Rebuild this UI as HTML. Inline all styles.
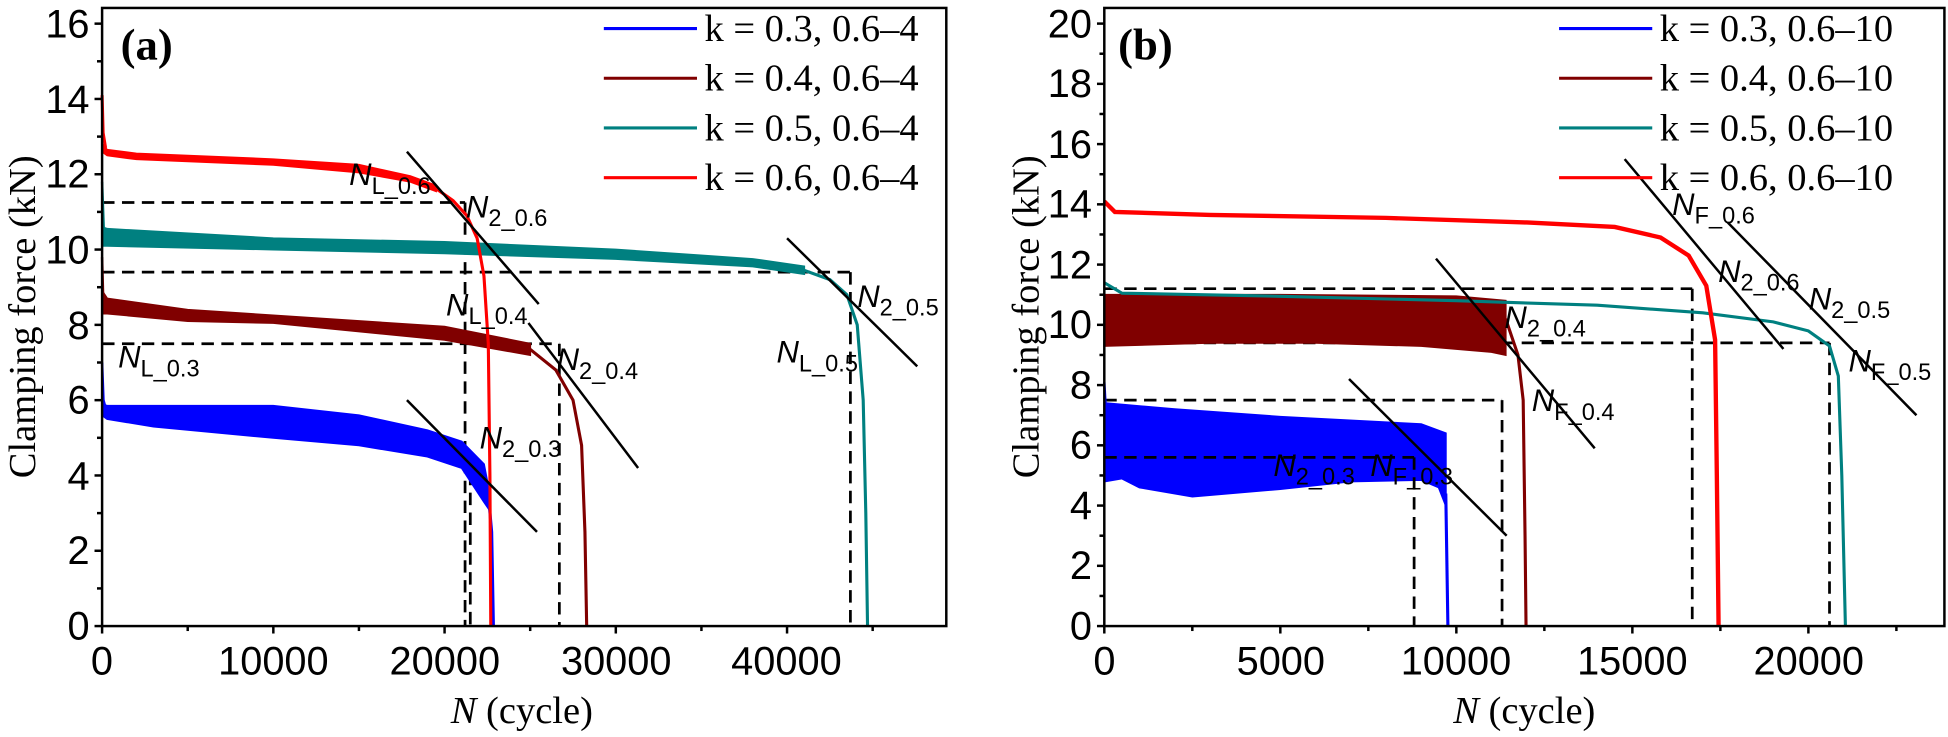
<!DOCTYPE html>
<html><head><meta charset="utf-8"><style>
html,body{margin:0;padding:0;background:#fff;}
svg{display:block;}
.tk{font-family:"Liberation Sans",sans-serif;font-size:32px;}
.lg{font-family:"Liberation Serif",serif;font-size:31px;}
.an{font-family:"Liberation Sans",sans-serif;font-size:25px;}
.an tspan.s{font-size:19px;}
</style></head><body>
<svg id="s" width="1948" height="737" viewBox="0 0 1568 593.3" xmlns="http://www.w3.org/2000/svg">
<g id="data"></g>
<rect x="82.1" y="6.4" width="679.6" height="497.6" fill="none" stroke="#000" stroke-width="2"/>
<rect x="888.9" y="6.4" width="676.3" height="497.6" fill="none" stroke="#000" stroke-width="2"/>
<g id="ticks" stroke="#000" stroke-width="2"></g>
<g class="tk" text-anchor="end">
<text x="72" y="515">0</text><text x="72" y="454">2</text><text x="72" y="394">4</text><text x="72" y="333">6</text><text x="72" y="273">8</text><text x="72" y="212">10</text><text x="72" y="151">12</text><text x="72" y="091">14</text><text x="72" y="30">16</text>
<text x="879" y="515">0</text><text x="879" y="466">2</text><text x="879" y="418">4</text><text x="879" y="369">6</text><text x="879" y="321">8</text><text x="879" y="272">10</text><text x="879" y="224">12</text><text x="879" y="175">14</text><text x="879" y="127">16</text><text x="879" y="78">18</text><text x="879" y="30">20</text>
</g>
<g class="tk" text-anchor="middle">
<text x="82" y="543">0</text><text x="220" y="543">10000</text><text x="358" y="543">20000</text><text x="496" y="543">30000</text><text x="633" y="543">40000</text>
<text x="889" y="543">0</text><text x="1031" y="543">5000</text><text x="1172" y="543">10000</text><text x="1314" y="543">15000</text><text x="1456" y="543">20000</text>
</g>
<g font-family="Liberation Serif,serif" font-size="31" text-anchor="middle">
<text x="420" y="582"><tspan font-style="italic">N</tspan> (cycle)</text>
<text x="1227" y="582"><tspan font-style="italic">N</tspan> (cycle)</text>
<text transform="translate(28,255) rotate(-90)">Clamping force (kN)</text>
<text transform="translate(836,255) rotate(-90)">Clamping force (kN)</text>
</g>
<g font-family="Liberation Serif,serif" font-size="36" font-weight="bold">
<text x="97" y="48">(a)</text><text x="900" y="48">(b)</text>
</g>
<g class="lg">
<line x1="486" y1="23" x2="561" y2="23" stroke="#0000ff" stroke-width="2.5"/><text x="567" y="33">k = 0.3, 0.6–4</text>
<line x1="486" y1="63" x2="561" y2="63" stroke="#800000" stroke-width="2.5"/><text x="567" y="73">k = 0.4, 0.6–4</text>
<line x1="486" y1="103" x2="561" y2="103" stroke="#008080" stroke-width="2.5"/><text x="567" y="113">k = 0.5, 0.6–4</text>
<line x1="486" y1="143" x2="561" y2="143" stroke="#ff0000" stroke-width="2.5"/><text x="567" y="153">k = 0.6, 0.6–4</text>
<line x1="1255" y1="23" x2="1330" y2="23" stroke="#0000ff" stroke-width="2.5"/><text x="1336" y="33">k = 0.3, 0.6–10</text>
<line x1="1255" y1="63" x2="1330" y2="63" stroke="#800000" stroke-width="2.5"/><text x="1336" y="73">k = 0.4, 0.6–10</text>
<line x1="1255" y1="103" x2="1330" y2="103" stroke="#008080" stroke-width="2.5"/><text x="1336" y="113">k = 0.5, 0.6–10</text>
<line x1="1255" y1="143" x2="1330" y2="143" stroke="#ff0000" stroke-width="2.5"/><text x="1336" y="153">k = 0.6, 0.6–10</text>
</g>
<g class="an">
<text x="281" y="149"><tspan font-style="italic">N</tspan><tspan class="s" dy="7">L_0.6</tspan></text>
<text x="375" y="175"><tspan font-style="italic">N</tspan><tspan class="s" dy="7">2_0.6</tspan></text>
<text x="359" y="254"><tspan font-style="italic">N</tspan><tspan class="s" dy="7">L_0.4</tspan></text>
<text x="448" y="298"><tspan font-style="italic">N</tspan><tspan class="s" dy="7">2_0.4</tspan></text>
<text x="625" y="292"><tspan font-style="italic">N</tspan><tspan class="s" dy="7">L_0.5</tspan></text>
<text x="690" y="247"><tspan font-style="italic">N</tspan><tspan class="s" dy="7">2_0.5</tspan></text>
<text x="95" y="296"><tspan font-style="italic">N</tspan><tspan class="s" dy="7">L_0.3</tspan></text>
<text x="386" y="361"><tspan font-style="italic">N</tspan><tspan class="s" dy="7">2_0.3</tspan></text>
<text x="1346" y="173"><tspan font-style="italic">N</tspan><tspan class="s" dy="7">F_0.6</tspan></text>
<text x="1383" y="227"><tspan font-style="italic">N</tspan><tspan class="s" dy="7">2_0.6</tspan></text>
<text x="1456" y="249"><tspan font-style="italic">N</tspan><tspan class="s" dy="7">2_0.5</tspan></text>
<text x="1488" y="299"><tspan font-style="italic">N</tspan><tspan class="s" dy="7">F_0.5</tspan></text>
<text x="1211" y="264"><tspan font-style="italic">N</tspan><tspan class="s" dy="7">2_0.4</tspan></text>
<text x="1233" y="331"><tspan font-style="italic">N</tspan><tspan class="s" dy="7">F_0.4</tspan></text>
<text x="1025" y="383"><tspan font-style="italic">N</tspan><tspan class="s" dy="7">2_0.3</tspan></text>
<text x="1103" y="383"><tspan font-style="italic">N</tspan><tspan class="s" dy="7">F_0.3</tspan></text>
</g>
</svg>
<script>
var NS="http://www.w3.org/2000/svg";
var A={x0:82.1,sx:0.013785,y0:504,sy:30.31},B={x0:888.9,sx:0.02834,sy:24.25,y0:504};
function X(P,n){return P.x0+P.sx*n}function Y(P,v){return P.y0-P.sy*v}
var g=document.getElementById('data'),tk=document.getElementById('ticks');
function el(t,a,p){var e=document.createElementNS(NS,t);for(var k in a)e.setAttribute(k,a[k]);(p||g).appendChild(e);return e}
function pts(P,arr){return arr.map(function(q){return X(P,q[0]).toFixed(1)+","+Y(P,q[1]).toFixed(1)})}
function line(P,arr,c,w,d){var a={d:"M"+pts(P,arr).join("L"),fill:"none",stroke:c,"stroke-width":w||2};if(d)a["stroke-dasharray"]=d;el("path",a)}
function band(P,up,lo,c){var p=pts(P,up).concat(pts(P,lo.slice().reverse()));el("path",{d:"M"+p.join("L")+"Z",fill:c,stroke:c,"stroke-width":1.5})}
function T(x1,y1,x2,y2){el("line",{x1:x1,y1:y1,x2:x2,y2:y2},tk)}
for(var v=0;v<=16;v++){var y=Y(A,v);T(82.1,y,v%2?78:76,y)}
for(var n=0;n<=45000;n+=5000){var x=X(A,n);T(x,504,x,n%10000?508:510)}
for(var v=0;v<=20;v++){var y=Y(B,v);T(888.9,y,v%2?885:883,y)}
for(var n=0;n<=22500;n+=2500){var x=X(B,n);T(x,504,x,n%5000?508:510)}
var D="10,6",W=2.2;
line(A,[[0,11.25],[21200,11.25]],"#000",W,D);line(A,[[21200,11.25],[21200,0]],"#000",W,D);
line(A,[[21500,4.6],[21500,0]],"#000",W,D);
line(A,[[0,9.4],[43700,9.4]],"#000",W,D);line(A,[[43700,9.4],[43700,0]],"#000",W,D);
line(A,[[0,7.5],[26700,7.5]],"#000",W,D);line(A,[[26700,7.5],[26700,0]],"#000",W,D);
line(A,[[0,5.6],[1500,5.6]],"#000",W,D);
band(A,[[0,5.9],[300,5.85],[5000,5.85],[10000,5.85],[15000,5.6],[19000,5.2],[21000,4.9],[22300,4.3],[22600,3.6]],
 [[0,5.6],[300,5.5],[3000,5.3],[10000,5.0],[15000,4.8],[19000,4.5],[21000,4.2],[22300,3.3],[22600,3.1]],"#0000ff");
line(A,[[0,7],[80,6],[200,5.8]],"#0000ff",2);
line(A,[[22550,3.5],[22750,2.5],[22850,0]],"#0000ff",2.5);
band(A,[[0,8.9],[300,8.7],[5000,8.4],[10000,8.25],[20000,7.95],[25000,7.5]],[[0,8.3],[300,8.3],[5000,8.1],[10000,8.05],[20000,7.6],[25000,7.2]],"#800000");
line(A,[[0,9.8],[60,8.8]],"#800000",2);
line(A,[[25000,7.35],[26500,6.8],[27500,6.0],[28000,4.8],[28200,2.5],[28300,0]],"#800000",2.5);
band(A,[[0,10.6],[300,10.55],[10000,10.3],[20000,10.2],[30000,10.0],[38000,9.75],[41000,9.55]],[[0,10.1],[300,10.1],[10000,10.0],[20000,9.9],[30000,9.75],[38000,9.55],[41000,9.35]],"#008080");
line(A,[[0,11.8],[100,10.5]],"#008080",2);
line(A,[[41000,9.45],[42500,9.2],[43500,8.8],[44100,8.0],[44450,6.0],[44600,3],[44700,0]],"#008080",2.5);
band(A,[[0,12.8],[300,12.65],[2000,12.55],[10000,12.4],[15000,12.25],[18000,11.95],[19500,11.7]],[[0,12.6],[300,12.5],[2000,12.4],[10000,12.25],[15000,12.05],[18000,11.8],[19500,11.55]],"#ff0000");
line(A,[[0,14.1],[60,13.1],[200,12.7]],"#ff0000",2.5);
line(A,[[19500,11.62],[20500,11.3],[21300,10.9],[21900,10.3],[22300,9.3],[22550,7.5],[22650,4],[22700,0]],"#ff0000",2.5);
line(A,[[17800,12.6],[25500,8.55]],"#000",2);line(A,[[40000,10.3],[47600,6.9]],"#000",2);
line(A,[[24900,8.05],[31300,4.2]],"#000",2);line(A,[[17800,6.0],[25400,2.5]],"#000",2);
line(B,[[0,11.2],[16700,11.2]],"#000",W,D);line(B,[[16700,11.2],[16700,0]],"#000",W,D);
line(B,[[0,9.4],[20600,9.4]],"#000",W,D);line(B,[[20600,9.4],[20600,0]],"#000",W,D);
line(B,[[0,7.5],[11300,7.5]],"#000",W,D);line(B,[[11300,7.5],[11300,0]],"#000",W,D);
band(B,[[0,7.4],[2000,7.2],[5000,6.95],[9000,6.7],[9700,6.4]],[[0,4.8],[500,4.9],[1000,4.6],[2500,4.3],[5000,4.55],[7000,4.8],[9000,4.85],[9500,4.6],[9700,4.0]],"#0000ff");
line(B,[[0,8.1],[30,7.4]],"#0000ff",2);
line(B,[[9700,4.4],[9760,0]],"#0000ff",2.5);
band(B,[[0,11.0],[5000,11.0],[10000,10.95],[11400,10.8]],[[0,9.3],[3000,9.4],[6000,9.4],[9000,9.3],[11000,9.1],[11400,9.0]],"#800000");
line(B,[[11400,10.2],[11750,9],[11900,7.5],[11950,3],[11980,0]],"#800000",2.5);
line(B,[[0,11.4],[500,11.05],[5000,10.95],[10000,10.8],[14000,10.65],[17000,10.4],[19000,10.1],[20000,9.8],[20600,9.3],[20850,8.3],[20950,5],[21050,0]],"#008080",2.5);
line(B,[[0,14.1],[300,13.75],[3000,13.65],[8000,13.55],[12000,13.4],[14500,13.25],[15800,12.9],[16600,12.3],[17100,11.3],[17350,9.5],[17400,5],[17450,0]],"#ff0000",3.5);
line(B,[[14780,15.5],[19290,9.2]],"#000",2);line(B,[[17710,13.4],[23070,7.0]],"#000",2);
line(B,[[9420,12.2],[13930,5.9]],"#000",2);line(B,[[6950,8.2],[11430,3.0]],"#000",2);
line(B,[[0,5.6],[8800,5.6]],"#000",W,D);line(B,[[8800,5.6],[8800,0]],"#000",W,D);
</script>
</body></html>
